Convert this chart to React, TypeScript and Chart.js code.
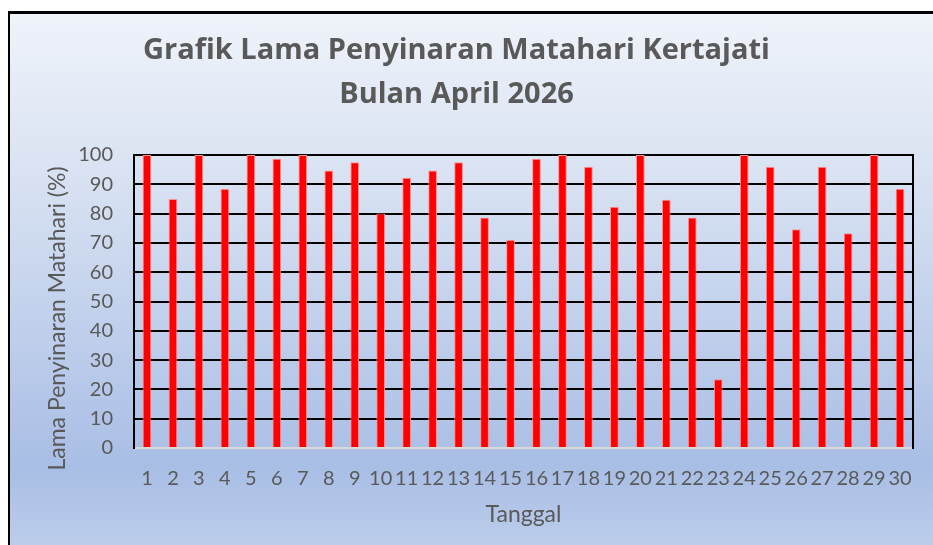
import React, { useEffect, useRef } from 'react';
import { Chart, registerables } from 'chart.js';

Chart.register(...registerables);

const TITLE_LINES = ['Grafik Lama Penyinaran Matahari Kertajati', 'Bulan April 2026'];
const Y_TITLE = 'Lama Penyinaran Matahari (%)';
const X_TITLE = 'Tanggal';
const DAYS = ['1', '2', '3', '4', '5', '6', '7', '8', '9', '10', '11', '12', '13', '14', '15', '16', '17', '18', '19', '20', '21', '22', '23', '24', '25', '26', '27', '28', '29', '30'];
const SUNSHINE = [100, 85, 100, 88.5, 100, 98.7, 100, 94.7, 97.5, 80, 92.2, 94.7, 97.5, 78.7, 71, 98.7, 100, 96, 82.3, 100, 84.7, 78.7, 23.5, 100, 96, 74.7, 96, 73.3, 100, 88.5];
const Y_MIN = 0;
const Y_MAX = 100;
const Y_STEP = 10;

const FONT = 'Lato, "Open Sans", "DejaVu Sans", sans-serif';
const TITLE_FONT = '"Open Sans", Lato, "DejaVu Sans", sans-serif';
const TEXT = '#595959';

const framePlugin = {
  id: 'frame',
  beforeDatasetsDraw(chart: any) {
    const { ctx, chartArea } = chart;
    ctx.save();
    ctx.strokeStyle = '#000';
    ctx.lineWidth = 2;
    ctx.beginPath();
    ctx.moveTo(chartArea.right, chartArea.top - 1);
    ctx.lineTo(chartArea.right, chartArea.bottom + 1);
    ctx.stroke();
    ctx.restore();
  },
  afterDraw(chart: any) {
    const { ctx, chartArea } = chart;
    ctx.save();
    ctx.translate(chartArea.left - 76, (chartArea.top + chartArea.bottom) / 2 + 17);
    ctx.rotate(-Math.PI / 2);
    ctx.font = `23px ${FONT}`;
    ctx.fillStyle = TEXT;
    ctx.textAlign = 'center';
    ctx.textBaseline = 'middle';
    ctx.fillText(Y_TITLE, 0, 0);
    ctx.restore();
  },
};

export default function App() {
  const ref = useRef<HTMLCanvasElement | null>(null);

  useEffect(() => {
    if (!ref.current) return;
    const chart = new Chart(ref.current, {
      type: 'bar',
      data: {
        labels: DAYS,
        datasets: [
          {
            data: SUNSHINE,
            backgroundColor: '#ff0000',
            borderColor: '#ff8f8f',
            borderWidth: 1,
            barPercentage: 0.335,
            categoryPercentage: 1,
          },
        ],
      },
      options: {
        responsive: false,
        animation: false,
        layout: { padding: { left: 0, right: 20, top: 0, bottom: 0 } },
        plugins: {
          legend: { display: false },
          tooltip: { enabled: false },
          title: {
            display: true,
            text: TITLE_LINES,
            color: TEXT,
            font: { family: TITLE_FONT, size: 29, weight: 'bold', lineHeight: '44px' },
            padding: { top: 29, bottom: 38 },
          },
        },
        scales: {
          x: {
            grid: { display: false, drawTicks: false },
            border: { display: true, color: '#d9d9d9', width: 2 },
            ticks: {
              color: TEXT,
              font: { family: FONT, size: 20 },
              padding: 19,
              autoSkip: false,
              maxRotation: 0,
              minRotation: 0,
            },
            title: {
              display: true,
              text: X_TITLE,
              color: TEXT,
              font: { family: FONT, size: 23 },
              padding: { top: 0, bottom: 17 },
            },
            afterFit(scale: any) {
              scale.height = 97;
            },
          },
          y: {
            min: Y_MIN,
            max: Y_MAX,
            grid: {
              color: (c: any) => (c.tick && c.tick.value === 0 ? 'rgba(0,0,0,0)' : '#000'),
              lineWidth: 2,
              drawTicks: false,
            },
            border: { display: true, color: '#000', width: 2 },
            ticks: {
              stepSize: Y_STEP,
              color: TEXT,
              font: { family: FONT, size: 20 },
              padding: 21,
            },
            afterFit(scale: any) {
              scale.width = 134;
            },
          },
        },
      },
      plugins: [framePlugin],
    });
    return () => chart.destroy();
  }, []);

  return (
    <div style={{ position: 'fixed', left: 0, top: 0, width: 933, height: 545, overflow: 'hidden', background: '#fff' }}>
      <div
        style={{
          position: 'absolute',
          left: 8,
          top: 11,
          width: 940,
          height: 560,
          borderLeft: '2px solid #000',
          borderTop: '3px solid #000',
          background: 'linear-gradient(to bottom, #eff3fa 0%, #dbe4f3 26%, #a9bee5 81%, #b9cbea 93%, #c2d2ed 100%)',
        }}
      />
      <canvas ref={ref} width={933} height={545} style={{ position: 'absolute', left: 0, top: 0, width: 933, height: 545 }} />
    </div>
  );
}
